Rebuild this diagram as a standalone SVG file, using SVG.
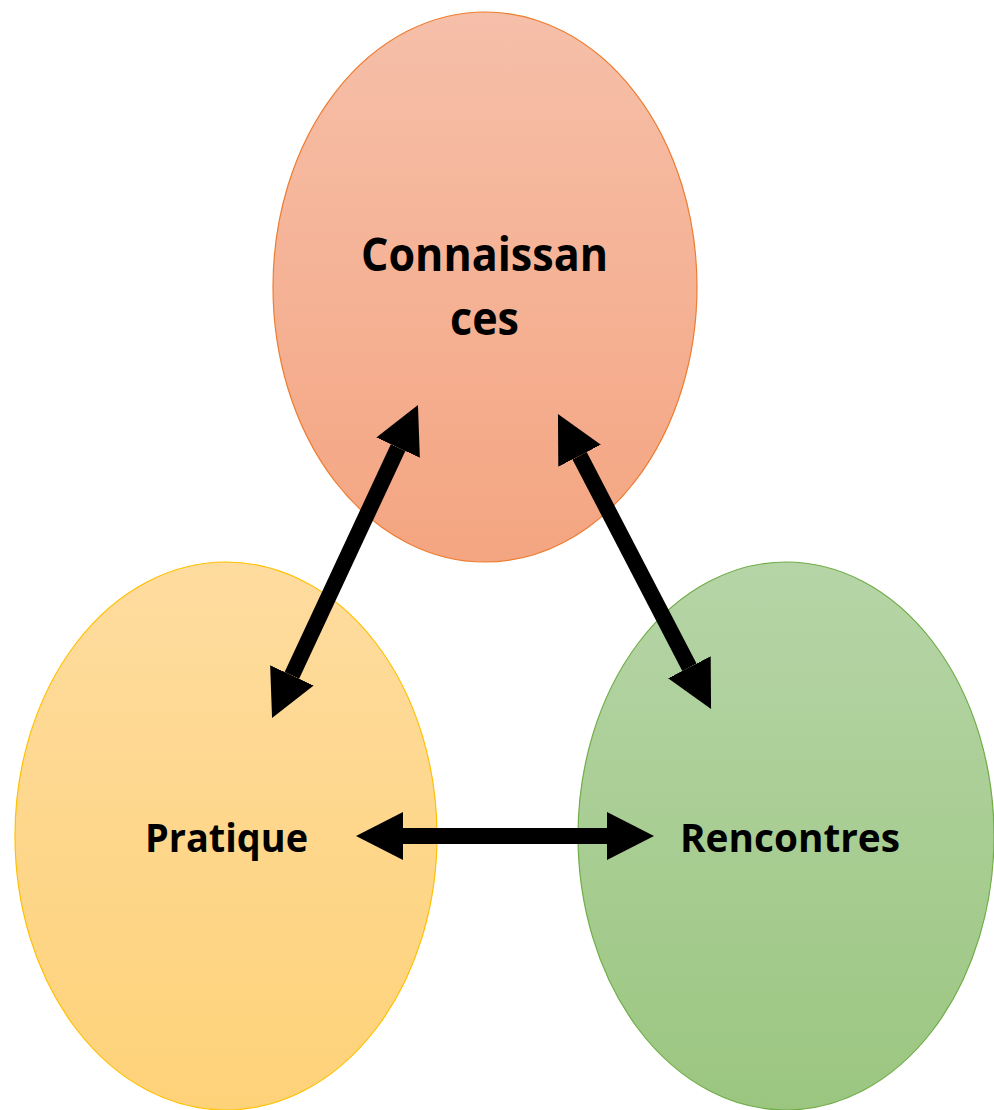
<svg xmlns="http://www.w3.org/2000/svg" width="994" height="1110" viewBox="0 0 994 1110">
  <defs>
    <linearGradient id="gOrange" x1="0" y1="0" x2="0" y2="1">
      <stop offset="0" stop-color="#F6BFA9"/>
      <stop offset="1" stop-color="#F4A581"/>
    </linearGradient>
    <linearGradient id="gYellow" x1="0" y1="0" x2="0" y2="1">
      <stop offset="0" stop-color="#FEDC9F"/>
      <stop offset="1" stop-color="#FED279"/>
    </linearGradient>
    <linearGradient id="gGreen" x1="0" y1="0" x2="0" y2="1">
      <stop offset="0" stop-color="#B6D5A7"/>
      <stop offset="1" stop-color="#9BC680"/>
    </linearGradient>
    <marker id="head" viewBox="0 0 47 48" refX="0" refY="24" markerWidth="47" markerHeight="48" markerUnits="userSpaceOnUse" orient="auto-start-reverse">
      <polygon points="0,0 47,24 0,48" fill="#000"/>
    </marker>
  </defs>
  <style>
    .lbl { font-family: "Open Sans", "Liberation Sans", sans-serif; font-weight: 700; fill: #000; text-anchor: middle; }
    .conn { stroke: #000; stroke-width: 16; fill: none; marker-start: url(#head); marker-end: url(#head); }
  </style>
  <g id="node-connaissances">
    <ellipse cx="485" cy="287" rx="212" ry="275" fill="url(#gOrange)" stroke="#ED7D31" stroke-width="1.2"/>
    <text class="lbl" x="484.5" y="271" font-size="46" textLength="247" lengthAdjust="spacingAndGlyphs">Connaissan</text>
    <text class="lbl" x="484.5" y="335" font-size="46" textLength="69" lengthAdjust="spacingAndGlyphs">ces</text>
  </g>
  <g id="node-pratique">
    <ellipse cx="226" cy="836" rx="211" ry="274" fill="url(#gYellow)" stroke="#FFC000" stroke-width="1.2"/>
    <text class="lbl" x="226.5" y="852" font-size="40" textLength="163" lengthAdjust="spacingAndGlyphs">Pratique</text>
  </g>
  <g id="node-rencontres">
    <ellipse cx="786" cy="836" rx="208" ry="274" fill="url(#gGreen)" stroke="#70AD47" stroke-width="1.2"/>
    <text class="lbl" x="790" y="852" font-size="40" textLength="220" lengthAdjust="spacingAndGlyphs">Rencontres</text>
  </g>
  <g id="connectors">
    <line class="conn" x1="291.9" y1="675.4" x2="398.1" y2="447.6"/>
    <line class="conn" x1="579.6" y1="455.7" x2="689.4" y2="667.3"/>
    <line class="conn" x1="403" y1="836" x2="607" y2="836"/>
  </g>
</svg>
